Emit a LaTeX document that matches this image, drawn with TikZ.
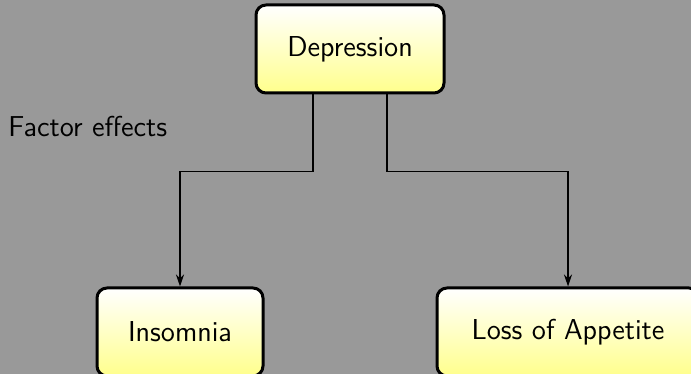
\documentclass[tikz,border=0pt]{standalone}
\usetikzlibrary{arrows.meta}
\tikzset{
  factor/.style={draw, line width=1.5pt, rounded corners=5pt, top color=white, bottom color=yellow!45,
    minimum width=#1, minimum height=44pt, font=\sffamily\Large},
  link/.style={->, >={Stealth[length=6pt,width=4pt]}, line width=0.75pt}
}
\begin{document}
\begin{tikzpicture}
	\fill[black!40] (0,0) rectangle (345.5pt,187pt);
	\useasboundingbox (0,0) rectangle (345.5pt,187pt);
	\node[factor=94pt] (dep) at (175pt,162.5pt) {Depression};
	\node[factor=83pt] (ins) at (90pt,21pt) {Insomnia};
	\node[factor=131pt] (loss) at (284pt,21pt) {Loss of Appetite};
	\node[anchor=west, inner sep=0pt, font=\sffamily\Large] (lbl) at (4pt,123.5pt) {Factor effects};
	\draw[link] ([xshift=-18.5pt]dep.south) -- ++(0,-38.5pt) -| (ins.north);
	\draw[link] ([xshift=18.5pt]dep.south) -- ++(0,-38.5pt) -| (loss.north);
\end{tikzpicture}
\end{document}
